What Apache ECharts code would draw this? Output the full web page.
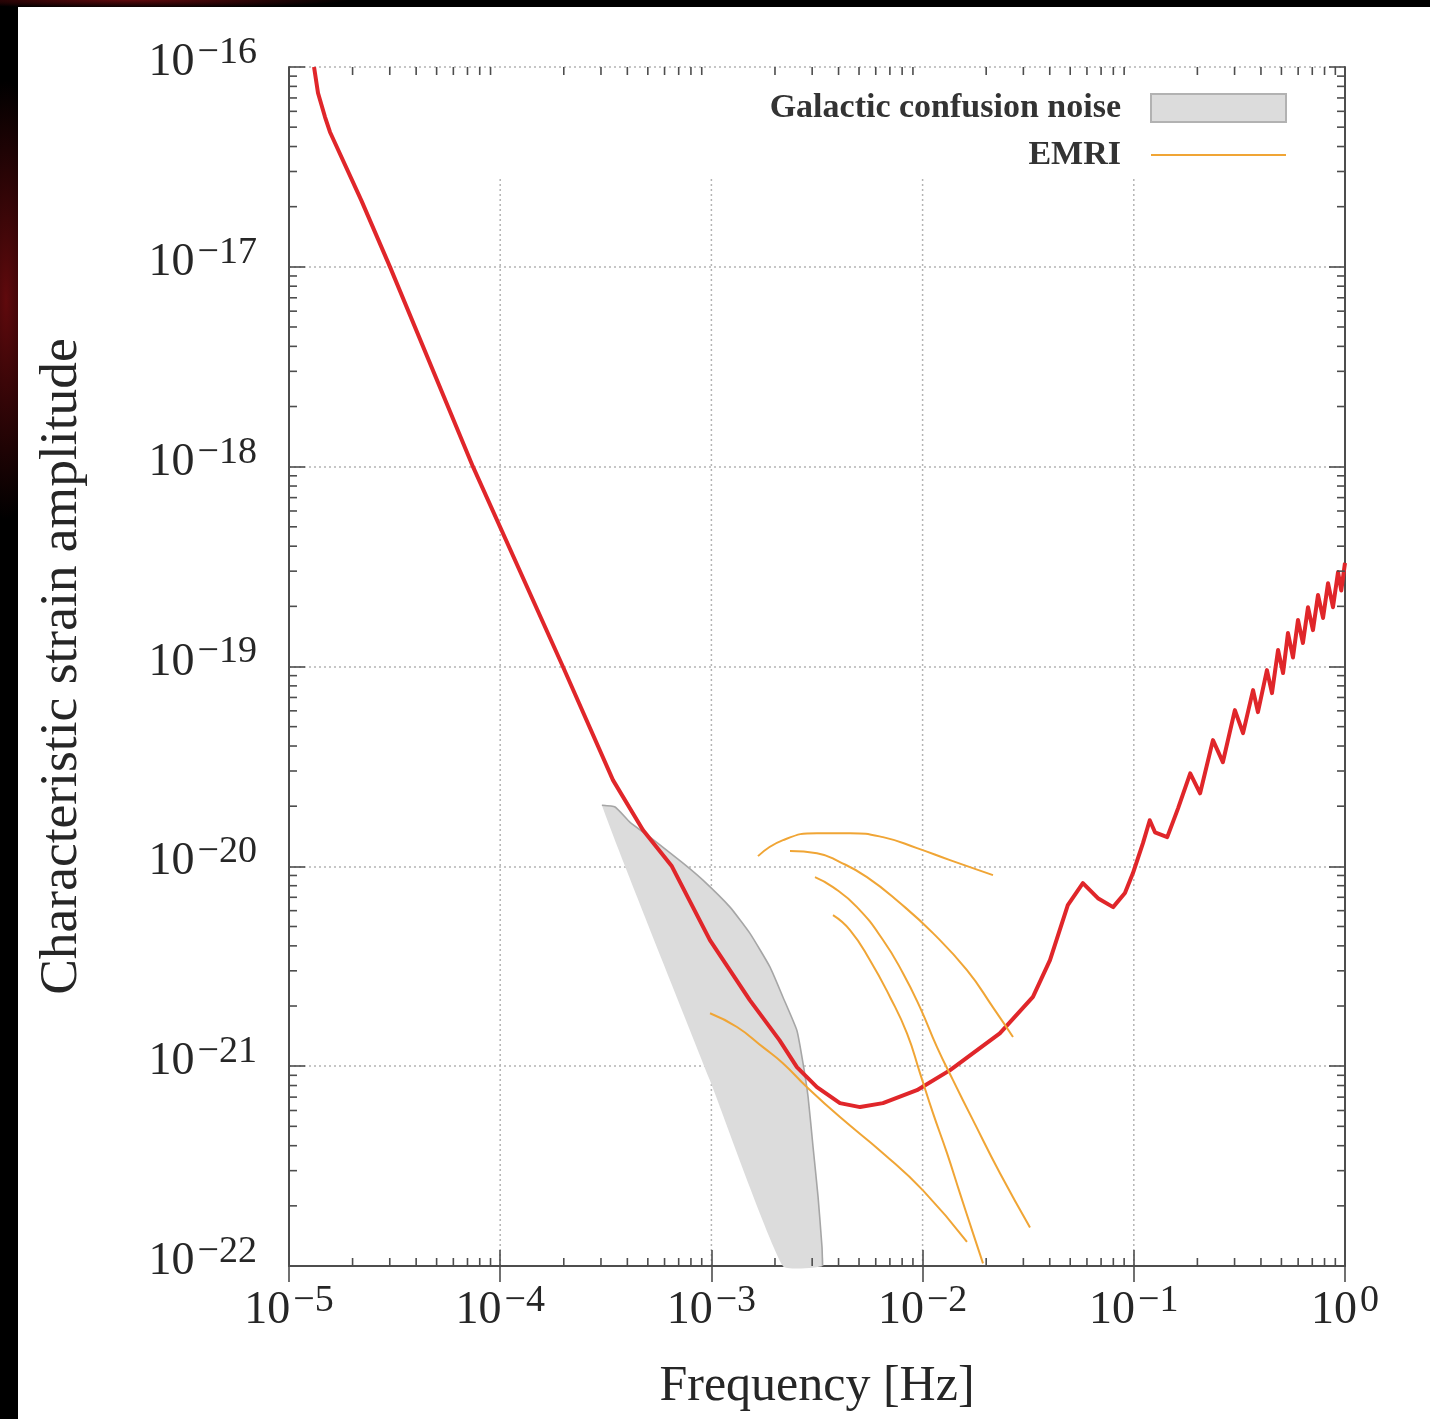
<!DOCTYPE html>
<html><head><meta charset="utf-8">
<script src="https://cdn.jsdelivr.net/npm/echarts@6/dist/echarts.min.js"></script>
<style>
html,body{margin:0;padding:0;background:#000;width:1430px;height:1419px;overflow:hidden;}
#bg{position:absolute;left:0;top:0;width:1430px;height:1419px;
background: radial-gradient(ellipse 40px 220px at 6px 300px, rgba(120,12,16,0.8), rgba(0,0,0,0) 100%),
 radial-gradient(ellipse 220px 8px at 130px 0px, rgba(120,12,16,0.8), rgba(0,0,0,0) 100%), #000;}
#chart{position:absolute;left:18px;top:7px;width:1412px;height:1412px;background:#fff;}
</style></head><body><div id="bg"></div><div id="chart"></div>
<script>
// ---------- data ----------
const xMin = 1e-5, xMax = 1;
const yMin = 1e-22, yMax = 1e-16;
const yTickValues = [1e-22, 1e-21, 1e-20, 1e-19, 1e-18, 1e-17, 1e-16];
const gridXValues = [1e-4, 1e-3, 1e-2, 1e-1];
const gridXTop = 2.81e-17;

// LISA sensitivity curve (red)
const lisaF = [1.314e-5, 1.372e-5, 1.481e-5, 1.563e-5, 2.2e-5, 3.007e-5, 7.43e-5, 1.98e-4, 3.42e-4, 4.74e-4, 6.50e-4,
  9.84e-4, 1.52e-3, 2.1e-3, 2.54e-3, 3.16e-3, 4.06e-3, 5.06e-3, 6.49e-3, 9.40e-3, 1.35e-2, 2.32e-2,
  3.33e-2, 4.01e-2, 4.87e-2, 5.74e-2, 6.76e-2, 7.98e-2, 9.08e-2, 9.91e-2, 0.1106, 0.119,
  0.126, 0.144, 0.162, 0.185, 0.206, 0.237, 0.264, 0.301, 0.329, 0.367,
  0.387, 0.427, 0.451, 0.482, 0.509, 0.537, 0.567, 0.599, 0.632, 0.668,
  0.705, 0.745, 0.787, 0.831, 0.877, 0.927, 0.96, 1.0];
const lisaH = [1e-16, 7.41e-17, 5.62e-17, 4.73e-17, 2.15e-17, 1e-17, 1e-18, 1e-19, 2.70e-20, 1.52e-20, 1e-20,
  4.27e-21, 2.14e-21, 1.35e-21, 9.89e-22, 7.85e-22, 6.53e-22, 6.24e-22, 6.53e-22, 7.58e-22, 9.55e-22, 1.46e-21,
  2.22e-21, 3.39e-21, 6.40e-21, 8.24e-21, 6.93e-21, 6.25e-21, 7.35e-21, 9.25e-21, 1.31e-20, 1.70e-20,
  1.48e-20, 1.40e-20, 1.95e-20, 2.92e-20, 2.32e-20, 4.28e-20, 3.32e-20, 6.05e-20, 4.64e-20, 7.62e-20,
  5.91e-20, 9.59e-20, 7.36e-20, 1.21e-19, 9.27e-20, 1.47e-19, 1.11e-19, 1.71e-19, 1.31e-19, 1.98e-19,
  1.52e-19, 2.28e-19, 1.75e-19, 2.61e-19, 1.98e-19, 2.97e-19, 2.4e-19, 3.3e-19];

// Galactic confusion noise region (outline, clockwise)
const gcnF = [3.03e-4, 3.50e-4, 4.12e-4, 5.12e-4, 7.34e-4, 9.12e-4, 1.225e-3, 1.52e-3, 1.895e-3, 2.18e-3,
  2.54e-3, 2.715e-3, 2.87e-3, 3.03e-3, 3.20e-3, 3.34e-3, 3.36e-3, 2.18e-3, 9.84e-4];
const gcnH = [2.02e-20, 1.98e-20, 1.66e-20, 1.40e-20, 1.038e-20, 8.53e-21, 6.25e-21, 4.63e-21, 3.13e-21, 2.22e-21,
  1.51e-21, 1.035e-21, 7.0e-22, 3.93e-22, 2.21e-22, 1.24e-22, 1e-22, 1e-22, 8.51e-22];
const gcnEdgeCount = 17; // first points form the outlined upper/right edge

// EMRI tracks
const emriA_f = [1.662e-3, 2.183e-3, 3.162e-3, 4.532e-3, 6.494e-3, 9.41e-3, 1.348e-2, 2.154e-2];
const emriA_h = [1.125e-20, 1.352e-20, 1.466e-20, 1.466e-20, 1.400e-20, 1.233e-20, 1.074e-20, 9.04e-21];
const emriB_f = [2.356e-3, 3.162e-3, 4.063e-3, 5.453e-3, 7.816e-3, 1.120e-2, 1.622e-2, 2.154e-2, 2.679e-2];
const emriB_h = [1.192e-20, 1.164e-20, 1.050e-20, 8.83e-21, 6.55e-21, 4.63e-21, 3.02e-21, 1.97e-21, 1.40e-21];
const emriC_f = [3.093e-3, 3.765e-3, 4.891e-3, 6.494e-3, 8.075e-3, 9.72e-3, 1.170e-2, 1.393e-2, 1.732e-2, 2.325e-2, 3.225e-2];
const emriC_h = [8.83e-21, 7.87e-21, 6.25e-21, 4.28e-21, 2.92e-21, 1.97e-21, 1.245e-21, 8.51e-22, 5.37e-22, 2.91e-22, 1.56e-22];
const emriD_f = [3.765e-3, 4.532e-3, 5.635e-3, 7.008e-3, 8.435e-3, 9.72e-3, 1.120e-2, 1.305e-2, 1.503e-2, 1.732e-2, 1.932e-2];
const emriD_h = [5.70e-21, 4.80e-21, 3.39e-21, 2.22e-21, 1.46e-21, 9.23e-22, 5.82e-22, 3.67e-22, 2.31e-22, 1.46e-22, 1.03e-22];
const emriE_f = [9.85e-4, 1.322e-3, 1.755e-3, 2.18e-3, 2.836e-3, 4.063e-3, 6.494e-3, 1.004e-2, 1.622e-2];
const emriE_h = [1.84e-21, 1.57e-21, 1.245e-21, 1.035e-21, 7.85e-22, 5.56e-22, 3.67e-22, 2.39e-22, 1.32e-22];

const xTitle = 'Frequency [Hz]';
const yTitle = 'Characteristic strain amplitude';
const legendNames = ['Galactic confusion noise', 'EMRI'];

// ---------- helpers ----------
const zip = (a, b) => a.map((v, i) => [v, b[i]]);
const FONT = 'Liberation Serif';
const INK = '#262626';
const FRAME = '#4d4d4d';
const ORANGE = '#f0a535';
const RED = '#e0262a';

const minorVals = (lo, hi) => {
  const out = [];
  for (let e = Math.round(Math.log10(lo)); e < Math.round(Math.log10(hi)); e++)
    for (let m = 2; m <= 9; m++) out.push(m * Math.pow(10, e));
  return out;
};
const xMinor = minorVals(xMin, xMax);
const yMinor = minorVals(yMin, yMax);

function expLabel(v) {
  const e = Math.round(Math.log10(v));
  return '{b|10}{s|' + (e < 0 ? '\u2212' : '') + Math.abs(e) + '}';
}
const labelRich = {
  b: { fontFamily: FONT, fontSize: 46, lineHeight: 46, color: INK, verticalAlign: 'bottom' },
  s: { fontFamily: FONT, fontSize: 38, lineHeight: 38, color: INK, verticalAlign: 'bottom', padding: [0, 0, 14, 3] }
};
const labelRichZr = {
  b: { fontFamily: FONT, fontSize: 46, lineHeight: 46, fill: INK, verticalAlign: 'bottom' },
  s: { fontFamily: FONT, fontSize: 38, lineHeight: 38, fill: INK, verticalAlign: 'bottom', padding: [0, 0, 14, 3] }
};

const tickStyle = { color: FRAME, width: 1.6 };
const MINOR = 8;

function emriSeries(f, h) {
  return {
    name: 'EMRI', type: 'line', data: zip(f, h), smooth: 0.5, showSymbol: false, symbol: 'none',
    lineStyle: { color: ORANGE, width: 2 }, itemStyle: { color: ORANGE }, z: 5, silent: true
  };
}

const chart = echarts.init(document.getElementById('chart'), null, { renderer: 'canvas' });
const option = {
  animation: false,
  backgroundColor: '#ffffff',
  grid: { left: 271, top: 60, width: 1056, height: 1199, containLabel: false, outerBoundsMode: 'none' },
  legend: {
    data: [
      { name: legendNames[0], icon: 'rect' },
      { name: legendNames[1], itemStyle: { opacity: 0 } }
    ],
    orient: 'vertical', align: 'right', right: 143, top: 84, padding: 0,
    itemWidth: 135, itemHeight: 28, itemGap: 13, selectedMode: false,
    textStyle: { fontFamily: FONT, fontWeight: 'bold', fontSize: 34, color: '#333', padding: [6, 25, 0, 0] }
  },
  xAxis: [{
    type: 'log', logBase: 10, min: xMin, max: xMax, position: 'bottom',
    name: xTitle, nameLocation: 'middle', nameGap: 96, nameMoveOverlap: false,
    nameTextStyle: { fontFamily: FONT, fontSize: 50, color: INK },
    axisLine: { show: true, lineStyle: { color: FRAME, width: 2 } },
    axisTick: { show: true, inside: true, length: 16, lineStyle: tickStyle },
    axisLabel: { margin: 22, formatter: expLabel, rich: labelRich, showMinLabel: true, showMaxLabel: true, hideOverlap: false },
    splitLine: { show: false }, minorTick: { show: false }
  }, {
    type: 'log', logBase: 10, min: xMin, max: xMax, position: 'top',
    axisLine: { show: true, lineStyle: { color: FRAME, width: 2 } },
    axisTick: { show: true, inside: true, length: 16, lineStyle: tickStyle },
    axisLabel: { show: false }, splitLine: { show: false }
  }],
  yAxis: [{
    type: 'log', logBase: 10, min: yMin, max: yMax, position: 'left',
    name: yTitle, nameLocation: 'middle', nameGap: 200, nameRotate: 90, nameMoveOverlap: false,
    nameTextStyle: { fontFamily: FONT, fontSize: 53.5, color: INK },
    axisLine: { show: true, lineStyle: { color: FRAME, width: 2 } },
    axisTick: { show: true, inside: true, length: 16, lineStyle: tickStyle },
    axisLabel: { show: false },
    splitLine: { show: true, lineStyle: { color: '#b4b4b4', width: 1.5, type: [2, 3] } }
  }, {
    type: 'log', logBase: 10, min: yMin, max: yMax, position: 'right',
    axisLine: { show: true, lineStyle: { color: FRAME, width: 2 } },
    axisTick: { show: true, inside: true, length: 16, lineStyle: tickStyle },
    axisLabel: { show: false }, splitLine: { show: false }
  }],
  series: [
    {
      name: 'vgrid', type: 'custom', xAxisIndex: 0, yAxisIndex: 0, silent: true, z: 0,
      data: gridXValues.map(v => [v, yMin]),
      renderItem: (params, api) => {
        const p0 = api.coord([api.value(0), yMin]);
        const p1 = api.coord([api.value(0), gridXTop]);
        return { type: 'line', shape: { x1: p0[0], y1: p0[1], x2: p1[0], y2: p1[1] },
          style: { stroke: '#b4b4b4', lineWidth: 1.5, lineDash: [2, 3] } };
      }
    },
    {
      name: 'ylabels', type: 'custom', xAxisIndex: 0, yAxisIndex: 0, silent: true, z: 6, clip: false,
      data: yTickValues.map(v => [xMin, v]),
      renderItem: (params, api) => {
        const cs = params.coordSys;
        const y = api.coord([xMin, api.value(1)])[1];
        return { type: 'text', x: cs.x - 32, y: y - 27,
          style: { text: expLabel(api.value(1)), rich: labelRichZr, align: 'right', verticalAlign: 'top' } };
      }
    },
    {
      name: 'xminor', type: 'custom', xAxisIndex: 0, yAxisIndex: 0, silent: true, z: 6,
      data: xMinor.map(v => [v, yMin]),
      renderItem: (params, api) => {
        const cs = params.coordSys;
        const x = api.coord([api.value(0), yMin])[0];
        const st = { stroke: FRAME, lineWidth: 1.6 };
        return { type: 'group', children: [
          { type: 'line', shape: { x1: x, y1: cs.y + cs.height, x2: x, y2: cs.y + cs.height - MINOR }, style: st },
          { type: 'line', shape: { x1: x, y1: cs.y, x2: x, y2: cs.y + MINOR }, style: st }
        ] };
      }
    },
    {
      name: 'yminor', type: 'custom', xAxisIndex: 0, yAxisIndex: 0, silent: true, z: 6,
      data: yMinor.map(v => [xMin, v]),
      renderItem: (params, api) => {
        const cs = params.coordSys;
        const y = api.coord([xMin, api.value(1)])[1];
        const st = { stroke: FRAME, lineWidth: 1.6 };
        return { type: 'group', children: [
          { type: 'line', shape: { x1: cs.x, y1: y, x2: cs.x + MINOR, y2: y }, style: st },
          { type: 'line', shape: { x1: cs.x + cs.width, y1: y, x2: cs.x + cs.width - MINOR, y2: y }, style: st }
        ] };
      }
    },
    {
      name: legendNames[0], type: 'custom', xAxisIndex: 0, yAxisIndex: 0, silent: true, z: 2,
      itemStyle: { color: '#dcdcdc', borderColor: '#b2b2b2', borderWidth: 1.5 },
      data: zip(gcnF, gcnH),
      renderItem: (params, api) => {
        if (params.dataIndex !== 0) return null;
        const pts = gcnF.map((f, i) => api.coord([f, gcnH[i]]));
        return { type: 'group', children: [
          { type: 'polygon', shape: { points: pts, smooth: 0.15 }, style: { fill: '#dcdcdc', stroke: null } },
          { type: 'polyline', shape: { points: pts.slice(0, gcnEdgeCount), smooth: 0.15 }, style: { stroke: '#a6a6a6', lineWidth: 1.6, fill: null } }
        ] };
      }
    },
    {
      name: 'LISA', type: 'line', data: zip(lisaF, lisaH), smooth: false,
      showSymbol: false, symbol: 'none', lineStyle: { color: RED, width: 4, join: 'round' }, z: 4, silent: true
    },
    emriSeries(emriA_f, emriA_h),
    emriSeries(emriB_f, emriB_h),
    emriSeries(emriC_f, emriC_h),
    emriSeries(emriD_f, emriD_h),
    emriSeries(emriE_f, emriE_h)
  ]
};
chart.setOption(option);
</script></body></html>
